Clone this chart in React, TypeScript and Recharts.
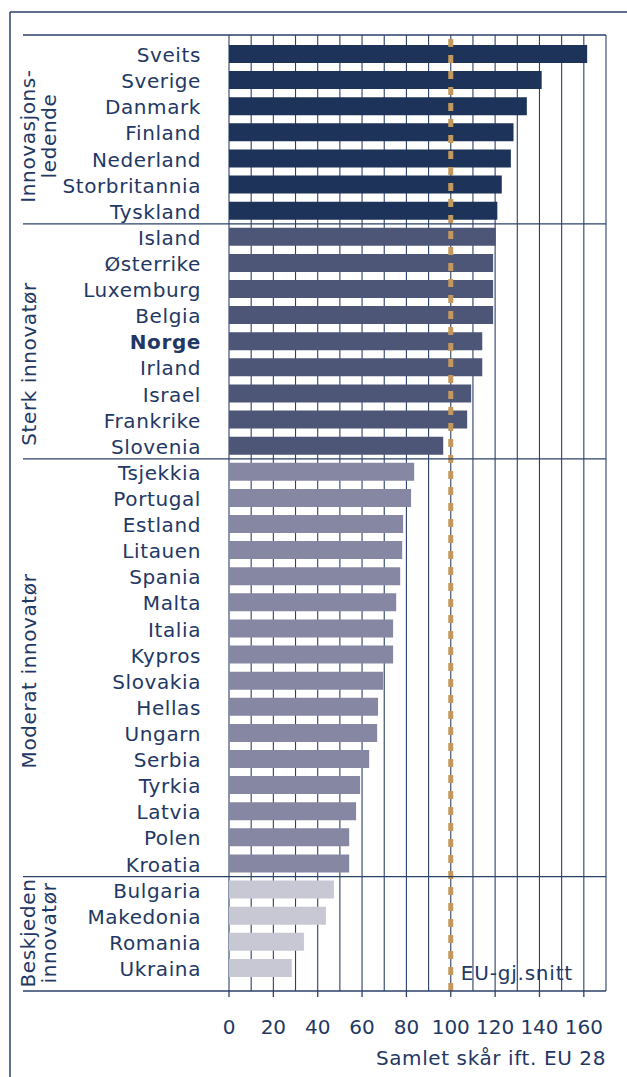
import React from 'react';
import { BarChart, Bar, XAxis, YAxis, CartesianGrid, ReferenceLine, Cell } from 'recharts';

// Countries top to bottom, grouped by innovation class
const countries = [
  'Sveits', 'Sverige', 'Danmark', 'Finland', 'Nederland', 'Storbritannia', 'Tyskland',
  'Island', 'Østerrike', 'Luxemburg', 'Belgia', 'Norge', 'Irland', 'Israel', 'Frankrike', 'Slovenia',
  'Tsjekkia', 'Portugal', 'Estland', 'Litauen', 'Spania', 'Malta', 'Italia', 'Kypros',
  'Slovakia', 'Hellas', 'Ungarn', 'Serbia', 'Tyrkia', 'Latvia', 'Polen', 'Kroatia',
  'Bulgaria', 'Makedonia', 'Romania', 'Ukraina',
];

const scores = [
  161.5, 141, 134.3, 128.3, 127.1, 123, 121,
  120.3, 119.1, 119.1, 119.1, 114.2, 114.2, 109.2, 107.4, 96.6,
  83.5, 82.1, 78.5, 78.1, 77.2, 75.4, 74, 74,
  69.5, 67.2, 66.8, 63.2, 59.1, 57.3, 54.2, 54.2,
  47.3, 43.7, 33.8, 28.3,
];

const groupNames = ['Innovasjonsledende', 'Sterk innovatør', 'Moderat innovatør', 'Beskjeden innovatør'];
const groupSizes = [7, 9, 16, 4];

const xTicks = [0, 20, 40, 60, 80, 100, 120, 140, 160];
const gridValues = [0, 10, 20, 30, 40, 50, 60, 70, 80, 90, 100, 110, 120, 130, 140, 150, 160, 170];
const euAverage = 100;
const highlighted = 'Norge';

const groupColors = ['#1d3359', '#4e5677', '#8687a3', '#c8c8d4'];
const NAVY = '#1f3864';
const LINE = '#2b4168';
const FONT = '"DejaVu Sans", Verdana, sans-serif';

// layout
const W = 627;
const H = 1077;
const PLOT_LEFT = 229;
const PLOT_RIGHT = 606;
const PLOT_TOP = 35;
const PLOT_BOTTOM = 991;
const PAD_TOP = 6;
const PAD_BOTTOM = 10;
const BAND = (PLOT_BOTTOM - PLOT_TOP - PAD_TOP - PAD_BOTTOM) / countries.length;

const groupStarts: number[] = [];
const groupOf: number[] = [];
groupSizes.reduce((start, size, g) => {
  groupStarts.push(start);
  for (let i = 0; i < size; i++) groupOf.push(g);
  return start + size;
}, 0);

const data = countries.map((name, i) => ({ name, value: scores[i], group: groupOf[i] }));

const YTick = (props: any) => {
  const { x, y, payload, index } = props;
  const bold = payload.value === highlighted;
  return (
    <g>
      {index > 0 && groupStarts.includes(index) && (
        <line x1={23} x2={PLOT_RIGHT} y1={y - BAND / 2} y2={y - BAND / 2} stroke={LINE} strokeWidth={1.3} />
      )}
      <text
        x={x}
        y={y}
        dy={8}
        textAnchor="end"
        fill={NAVY}
        fontFamily={FONT}
        fontSize={20}
        letterSpacing={0.6}
        fontWeight={bold ? 'bold' : 'normal'}
      >
        {payload.value}
      </text>
    </g>
  );
};

const XTick = (props: any) => {
  const { x, y, payload } = props;
  return (
    <text x={x} y={y} dy="0.71em" textAnchor="middle" fill={NAVY} fontFamily={FONT} fontSize={20}>
      {payload.value}
    </text>
  );
};

const EuLabel = (props: any) => {
  const { viewBox } = props;
  return (
    <text
      x={viewBox.x + 10}
      y={viewBox.y + viewBox.height - 11}
      fill={NAVY}
      fontFamily={FONT}
      fontSize={20}
      letterSpacing={0.8}
    >
      EU-gj.snitt
    </text>
  );
};

// rotated group labels (two lines where the original wraps)
const groupLabelLines = [
  ['Innovasjons-', 'ledende'],
  ['Sterk innovatør'],
  ['Moderat innovatør'],
  ['Beskjeden', 'innovatør'],
];
const groupLabelCenters = [136, 364, 671, 933];

const App: React.FC = () => {
  return (
    <div style={{ position: 'absolute', left: 0, top: 0, width: W, height: H, background: '#fff' }}>
      <BarChart
        width={W}
        height={H}
        data={data}
        layout="vertical"
        margin={{ top: PLOT_TOP, right: W - PLOT_RIGHT, bottom: 0, left: 0 }}
        barSize={18}
      >
        <CartesianGrid horizontal={false} verticalValues={gridValues} stroke={LINE} strokeWidth={1.1} />
        <XAxis
          type="number"
          domain={[0, 170]}
          ticks={xTicks}
          height={H - PLOT_BOTTOM}
          tickSize={6}
          tickMargin={23}
          tick={<XTick />}
          stroke={LINE}
          axisLine={{ stroke: LINE, strokeWidth: 1.3 }}
          tickLine={{ stroke: LINE, strokeWidth: 1.3 }}
          interval={0}
        />
        <YAxis
          type="category"
          dataKey="name"
          width={PLOT_LEFT}
          padding={{ top: PAD_TOP, bottom: PAD_BOTTOM }}
          axisLine={false}
          tickLine={false}
          tickSize={0}
          tickMargin={28}
          tick={<YTick />}
          interval={0}
        />
        <Bar dataKey="value" isAnimationActive={false}>
          {data.map((d) => (
            <Cell key={d.name} fill={groupColors[d.group]} />
          ))}
        </Bar>
        <ReferenceLine
          x={euAverage}
          stroke="#c4975a"
          strokeWidth={5}
          strokeDasharray="8 8"
          label={<EuLabel />}
        />
      </BarChart>
      <svg
        width={W}
        height={H}
        style={{ position: 'absolute', left: 0, top: 0, pointerEvents: 'none' }}
      >
        <line x1={10} x2={W} y1={12} y2={12} stroke={LINE} strokeWidth={1.5} />
        <line x1={10} x2={10} y1={12} y2={H} stroke={LINE} strokeWidth={1.5} />
        <line x1={23} x2={PLOT_RIGHT} y1={PLOT_TOP} y2={PLOT_TOP} stroke={LINE} strokeWidth={1.3} />
        <line x1={23} x2={PLOT_LEFT} y1={PLOT_BOTTOM} y2={PLOT_BOTTOM} stroke={LINE} strokeWidth={1.3} />
        {groupLabelLines.map((lines, g) => {
          const cy = groupLabelCenters[g];
          const baselines = lines.length === 2 ? [35, 56] : [36];
          return lines.map((txt, k) => (
            <text
              key={groupNames[g] + k}
              x={baselines[k]}
              y={cy}
              transform={`rotate(-90 ${baselines[k]} ${cy})`}
              textAnchor="middle"
              fill={NAVY}
              fontFamily={FONT}
              fontSize={20}
              letterSpacing={0.6}
            >
              {txt}
            </text>
          ));
        })}
        <text
          x={PLOT_RIGHT}
          y={1065}
          textAnchor="end"
          fill={NAVY}
          fontFamily={FONT}
          fontSize={20}
          letterSpacing={0.6}
        >
          Samlet skår ift. EU 28
        </text>
      </svg>
    </div>
  );
};

export default App;
